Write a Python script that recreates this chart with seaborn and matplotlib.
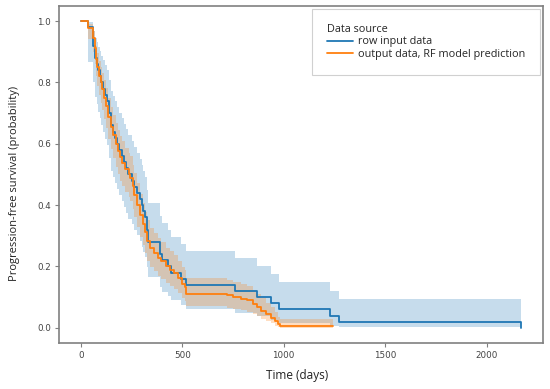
import matplotlib
matplotlib.use("Agg")
import matplotlib.pyplot as plt
import seaborn as sns
import pandas as pd

# Kaplan-Meier steps (time in days, survival probability)
row_days = [0, 35, 62, 70, 78, 87, 95, 100, 110, 120,
            131, 140, 149, 160, 170, 177, 190, 202, 215, 225,
            234, 250, 262, 275, 292, 300, 305, 316, 325, 331,
            390, 400, 430, 446, 495, 519, 759, 870, 939, 977,
            1226, 1272, 2169]
row_surv = [1.00, 0.98, 0.92, 0.88, 0.86, 0.84, 0.82, 0.80, 0.78, 0.76,
            0.74, 0.70, 0.66, 0.64, 0.62, 0.60, 0.58, 0.56, 0.54, 0.52,
            0.50, 0.48, 0.46, 0.44, 0.42, 0.40, 0.38, 0.36, 0.32, 0.28,
            0.24, 0.22, 0.20, 0.18, 0.16, 0.14, 0.12, 0.10, 0.08, 0.06,
            0.04, 0.02, 0.00]
row_lower = [1.0, 0.866, 0.800, 0.752, 0.729, 0.705, 0.683, 0.660, 0.638, 0.616,
             0.595, 0.553, 0.511, 0.491, 0.471, 0.451, 0.432, 0.412, 0.393, 0.374,
             0.356, 0.337, 0.319, 0.301, 0.283, 0.265, 0.248, 0.231, 0.197, 0.164,
             0.133, 0.118, 0.103, 0.089, 0.075, 0.062, 0.049, 0.037, 0.026, 0.016,
             0.007, 0.002, 0.002]
row_upper = [1.0, 0.997, 0.969, 0.944, 0.931, 0.917, 0.902, 0.887, 0.872, 0.856,
             0.840, 0.807, 0.773, 0.756, 0.738, 0.720, 0.702, 0.684, 0.666, 0.647,
             0.628, 0.609, 0.590, 0.571, 0.551, 0.531, 0.511, 0.491, 0.450, 0.408,
             0.364, 0.342, 0.320, 0.297, 0.274, 0.250, 0.226, 0.201, 0.175, 0.149,
             0.121, 0.093, 0.093]

rf_days = [0, 34, 62, 68, 75, 82, 90, 97, 103, 112,
           122, 136, 148, 160, 172, 182, 192, 202, 220, 235,
           243, 255, 264, 278, 292, 305, 315, 325, 341, 360,
           380, 395, 420, 440, 460, 480, 500, 513, 520, 718,
           750, 790, 820, 847, 870, 890, 915, 935, 955, 970,
           980, 1243]
rf_surv = [1.000, 0.978, 0.944, 0.911, 0.878, 0.850, 0.822, 0.800, 0.778, 0.750,
           0.722, 0.689, 0.656, 0.628, 0.600, 0.578, 0.556, 0.539, 0.517, 0.500,
           0.489, 0.461, 0.433, 0.400, 0.367, 0.339, 0.311, 0.283, 0.261, 0.244,
           0.228, 0.217, 0.200, 0.189, 0.178, 0.161, 0.144, 0.133, 0.111, 0.106,
           0.100, 0.094, 0.089, 0.078, 0.067, 0.056, 0.044, 0.033, 0.022, 0.011,
           0.006, 0.006]
rf_lower = [1.0, 0.942, 0.899, 0.859, 0.821, 0.789, 0.758, 0.734, 0.710, 0.680,
            0.650, 0.616, 0.582, 0.553, 0.525, 0.502, 0.480, 0.463, 0.442, 0.425,
            0.414, 0.387, 0.360, 0.328, 0.297, 0.271, 0.245, 0.219, 0.199, 0.184,
            0.170, 0.160, 0.145, 0.136, 0.126, 0.112, 0.097, 0.088, 0.070, 0.066,
            0.062, 0.057, 0.053, 0.045, 0.037, 0.029, 0.021, 0.014, 0.007, 0.002,
            0.0005, 0.0005]
rf_upper = [1.0, 0.992, 0.969, 0.945, 0.918, 0.895, 0.871, 0.851, 0.832, 0.807,
            0.782, 0.751, 0.720, 0.694, 0.667, 0.646, 0.625, 0.609, 0.587, 0.570,
            0.560, 0.532, 0.504, 0.471, 0.437, 0.408, 0.379, 0.350, 0.327, 0.309,
            0.292, 0.280, 0.261, 0.249, 0.237, 0.218, 0.199, 0.187, 0.162, 0.156,
            0.149, 0.142, 0.136, 0.123, 0.110, 0.096, 0.081, 0.067, 0.052, 0.036,
            0.028, 0.028]

ROW_LABEL = "row input data"
RF_LABEL = "output data, RF model prediction"
BLUE = "#1f77b4"
ORANGE = "#ff7f0e"

sns.set_theme(style="ticks")
plt.rcParams['font.family'] = ['DejaVu Sans']

df = pd.concat([
    pd.DataFrame({'Time': row_days, 'Survival': row_surv, 'Data source': ROW_LABEL}),
    pd.DataFrame({'Time': rf_days, 'Survival': rf_surv, 'Data source': RF_LABEL}),
], ignore_index=True)

fig = plt.figure(figsize=(5.5, 3.89), dpi=100)
ax = fig.add_axes([0.107, 0.118, 0.880, 0.867])

# confidence bands
ax.fill_between(row_days, row_lower, row_upper, step='post', color=BLUE, alpha=0.25, lw=0)
ax.fill_between(rf_days, rf_lower, rf_upper, step='post', color=ORANGE, alpha=0.25, lw=0)

sns.lineplot(data=df, x='Time', y='Survival', hue='Data source',
             palette=[BLUE, ORANGE], drawstyle='steps-post', estimator=None,
             sort=False, lw=1.3, ax=ax)

for side in ['top', 'right', 'bottom', 'left']:
    ax.spines[side].set_color('#808080')
    ax.spines[side].set_linewidth(1.2)
ax.tick_params(axis='both', labelsize=6.3, color='#808080', labelcolor='#444444',
               length=3, width=0.8, pad=2.5)

ax.set_xlabel('Time (days)', fontsize=8.5, family='Open Sans', color='#222222')
ax.set_ylabel('Progression-free survival (probability)', fontsize=8, family='Open Sans', color='#222222')
ax.xaxis.set_label_coords(0.492, -0.077)
ax.yaxis.set_label_coords(-0.08, 0.473)

handles, labels = ax.get_legend_handles_labels()
leg = ax.legend(handles, labels, title='Data source', loc='upper right', alignment='left',
                prop={'family': 'Open Sans', 'size': 7.8},
                title_fontproperties={'family': 'Open Sans', 'size': 7.8},
                borderpad=1.4, labelspacing=0.15, handlelength=2.4, handletextpad=0.4,
                borderaxespad=0.25, fancybox=False, edgecolor='#d0d0d0', framealpha=1)
leg.get_frame().set_linewidth(0.8)

fig.savefig('out.png', dpi=100)
